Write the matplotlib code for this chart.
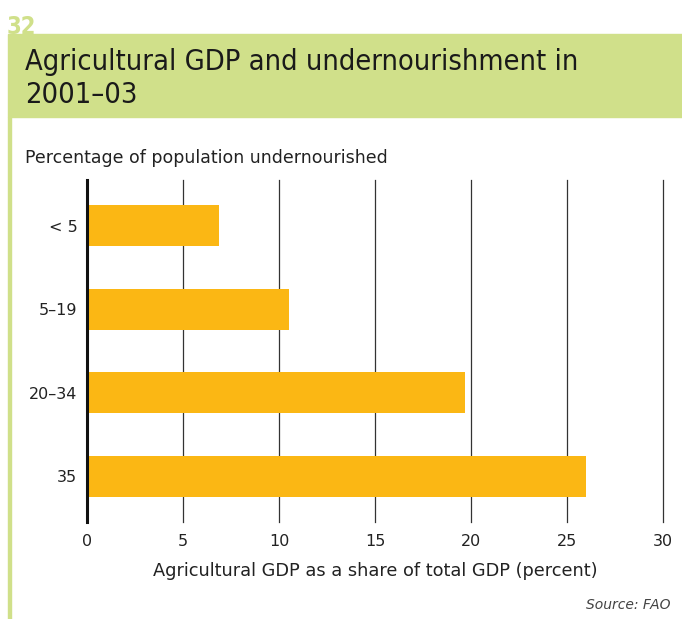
import matplotlib.pyplot as plt
from matplotlib.patches import Rectangle

categories = ['< 5', '5\u201319', '20\u201334', '35']
values = [6.9, 10.5, 19.7, 26.0]
xticks = [0, 5, 10, 15, 20, 25, 30]

green = '#d0e08a'
bar_color = '#fbb714'
text_color = '#222222'

plt.rcParams['font.family'] = ['DejaVu Sans']

W, H = 682, 619
fig = plt.figure(figsize=(W / 100, H / 100), dpi=100)

# green banner and left rule
fig.patches.append(Rectangle((8 / W, 1 - 117 / H), 1 - 8 / W, 83 / H,
                             transform=fig.transFigure, color=green, zorder=0))
fig.patches.append(Rectangle((8 / W, 0), 3 / W, 1 - 117 / H,
                             transform=fig.transFigure, color=green, zorder=0))
fig.text(7 / W, 1 - 34 / H, '32', color=green, fontsize=17, fontweight='bold',
         fontstretch='condensed', va='baseline', ha='left')
fig.text(25 / W, 1 - 70 / H, 'Agricultural GDP and undernourishment in',
         fontsize=20.8, fontstretch='condensed',
         color='#1a1a1a', va='baseline', ha='left')
fig.text(25 / W, 1 - 103 / H, '2001\u201303',
         fontsize=20.8, fontstretch='condensed',
         color='#1a1a1a', va='baseline', ha='left')
fig.text(25 / W, 1 - 163 / H, 'Percentage of population undernourished',
         fontsize=12.5, color=text_color)

ax = fig.add_axes([87 / W, 1 - 522 / H, (663 - 87) / W, (522 - 180) / H])
y = range(len(categories))
ax.barh(y, values, height=0.49, color=bar_color, zorder=2)
ax.set_ylim(3.55, -0.55)
ax.set_xlim(0, 30)
ax.set_yticks(list(y))
ax.set_yticklabels(categories)
ax.set_xticks(xticks)
ax.tick_params(length=0, labelsize=11.5, colors=text_color)
ax.tick_params(axis='y', pad=7)
ax.tick_params(axis='x', pad=9)
ax.grid(axis='x', color='#333333', linewidth=0.9, zorder=1)
for line in ax.get_xgridlines():
    line.set_clip_on(False)
for s in ['top', 'right', 'bottom']:
    ax.spines[s].set_visible(False)
ax.spines['left'].set_linewidth(2.2)
ax.spines['left'].set_color('#111111')
ax.spines['left'].set_zorder(3)
ax.set_xlabel('Agricultural GDP as a share of total GDP (percent)',
              fontsize=12.8, color=text_color, labelpad=9)

fig.text(670 / W, 1 - 609 / H, 'Source: FAO', fontsize=10, style='italic',
         color='#444444', ha='right')

fig.savefig('out.png', dpi=100)
